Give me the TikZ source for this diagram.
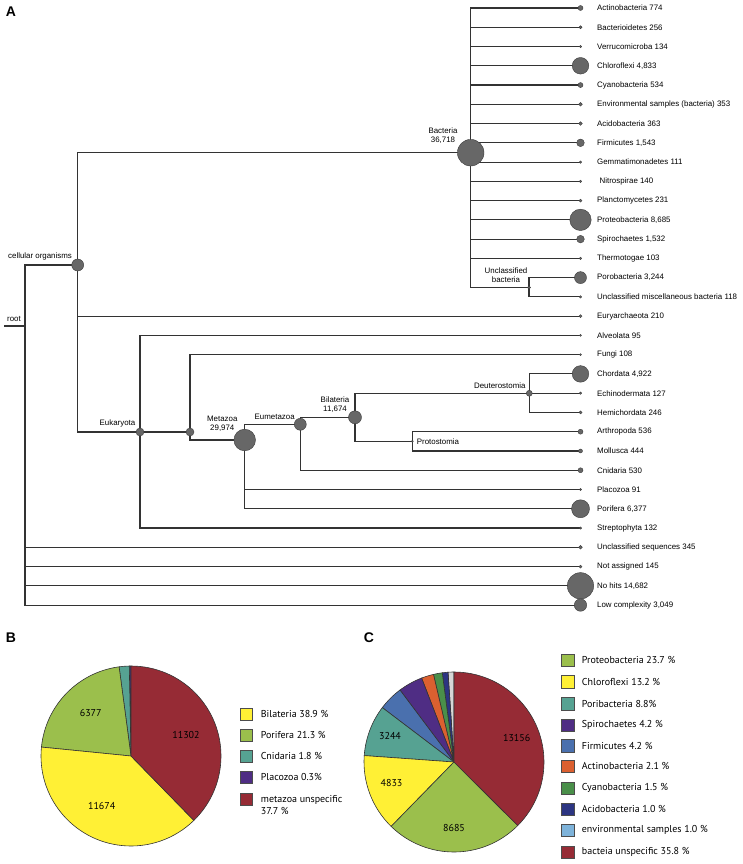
\documentclass[tikz,border=0pt]{standalone}
\usepackage{fontspec}
\setmainfont{Liberation Sans}
\newfontfamily\piefont{PT Sans}
\usetikzlibrary{backgrounds}

\definecolor{linegray}{HTML}{333333}
\definecolor{knotgray}{HTML}{676767}
\definecolor{rimgray}{HTML}{3C3C3C}
\definecolor{pieyellow}{HTML}{FFF035}
\definecolor{piegreen}{HTML}{9BBF4C}
\definecolor{pieteal}{HTML}{56A292}
\definecolor{piepurple}{HTML}{4F2D84}
\definecolor{piered}{HTML}{962B35}
\definecolor{pieblue}{HTML}{4A70AE}
\definecolor{pieorange}{HTML}{DB6030}
\definecolor{piecyano}{HTML}{4A8F4A}
\definecolor{pieacido}{HTML}{2C3582}
\definecolor{pieenv}{HTML}{7EB3DA}
\definecolor{piegray}{HTML}{D6D6D6}

\tikzset{
  branch/.style={draw=linegray, line width=1.1pt},
  knot/.style={circle, fill=knotgray, draw=rimgray, line width=0.4pt, inner sep=0pt, minimum size=#1},
  taxon/.style={anchor=west, inner sep=0pt, font=\fontsize{7.9}{9}\selectfont},
  clade/.style={inner sep=0pt, align=center, font=\fontsize{7.9}{9}\selectfont},
  panel/.style={inner sep=0pt, font=\fontsize{14}{14}\selectfont\bfseries},
  slice/.style={draw=black!80, line width=0.6pt},
  swatch/.style={draw=black!70, line width=0.6pt, minimum size=12.4pt, inner sep=0pt},
  legtext/.style={anchor=west, inner sep=0pt, align=left, font=\piefont\fontsize{10}{11.7}\selectfont},
  pienum/.style={inner sep=0pt, font=\piefont\fontsize{10}{11}\selectfont},
}

\begin{document}
\begin{tikzpicture}[x=1pt, y=-1pt]
\useasboundingbox (0,0) rectangle (743,864);

% Panel letters
\node[panel] (pa) at (11,12) {A};
\node[panel] (pb) at (11,638) {B};
\node[panel] (pc) at (369,638) {C};

% Leaves of the tree
\foreach \nm/\i/\sz/\txt in {
  actino/0/5pt/{Actinobacteria 774},
  bacteroid/1/3pt/{Bacterioidetes 256},
  verruco/2/2.4pt/{Verrucomicroba 134},
  chloro/3/16.6pt/{Chloroflexi 4,833},
  cyano/4/5pt/{Cyanobacteria 534},
  envsam/5/3.6pt/{Environmental samples (bacteria) 353},
  acido/6/3.6pt/{Acidobacteria 363},
  firmi/7/7.6pt/{Firmicutes 1,543},
  gemma/8/2.4pt/{Gemmatimonadetes 111},
  nitro/9/2.4pt/{\hspace{2.5pt}Nitrospirae 140},
  plancto/10/3pt/{Planctomycetes 231},
  proteo/11/21.4pt/{Proteobacteria 8,685},
  spiro/12/7.6pt/{Spirochaetes 1,532},
  thermo/13/2.4pt/{Thermotogae 103},
  poro/14/12pt/{Porobacteria 3,244},
  unclmisc/15/2.4pt/{Unclassified miscellaneous bacteria 118},
  eury/16/3pt/{Euryarchaeota 210},
  alveo/17/2pt/{Alveolata 95},
  fungi/18/2pt/{Fungi 108},
  chorda/19/16.6pt/{Chordata 4,922},
  echino/20/2.4pt/{Echinodermata 127},
  hemi/21/3pt/{Hemichordata 246},
  arthro/22/5pt/{Arthropoda 536},
  mollu/23/4pt/{Mollusca 444},
  cnida/24/5pt/{Cnidaria 530},
  placo/25/2pt/{Placozoa 91},
  pori/26/18pt/{Porifera 6,377},
  strepto/27/2.4pt/{Streptophyta 132},
  unclseq/28/3.6pt/{Unclassified sequences 345},
  notass/29/3pt/{Not assigned 145},
  nohits/30/26.4pt/{No hits 14,682},
  lowcx/31/12.4pt/{Low complexity 3,049}}{
  \node[knot=\sz] (\nm) at (580.5,{8+19.26*\i}) {};
  \node[taxon] (\nm-t) at (597,{8+19.26*\i}) {\txt};
}

% Inner nodes
\coordinate (rootend) at (4,326);
\coordinate (root) at (25,326);
\node[knot=12pt] (cell) at (77.7,265) {};
\node[knot=26.6pt] (bact) at (470.7,152.7) {};
\node[knot=3pt] (unclb) at (529,287.5) {};
\node[knot=8pt] (euk) at (140,432) {};
\node[knot=8pt] (opisth) at (190,432) {};
\node[knot=21.6pt] (meta) at (244.7,440) {};
\node[knot=12pt] (eumeta) at (300.3,424.3) {};
\node[knot=13pt] (bila) at (355,417.3) {};
\node[knot=6pt] (deut) at (529.3,393.3) {};
\node[knot=2pt] (prot) at (412.3,441.3) {};

% Clade labels
\node[clade] (root-t) at (14,319) {root};
\node[clade] (cell-t) at (40,256) {cellular organisms};
\node[clade] (bact-t) at (443,136) {Bacteria\\36,718};
\node[clade] (unclb-t) at (506,275) {Unclassified\\bacteria};
\node[clade] (euk-t) at (117.5,423.3) {Eukaryota};
\node[clade] (meta-t) at (222.3,423.7) {Metazoa\\29,974};
\node[clade] (eumeta-t) at (274.7,416.7) {Eumetazoa};
\node[clade] (bila-t) at (335,405) {Bilateria\\11,674};
\node[clade, anchor=east] (deut-t) at (525.7,386) {Deuterostomia};
\node[clade, anchor=west] (prot-t) at (416.7,441.3) {Protostomia};

% Branches, one path for each parent
\begin{scope}[on background layer]
\draw[branch] (rootend) -- (root)
  \foreach \c in {cell,unclseq,notass,nohits,lowcx} {(root) |- (\c.center)};
\draw[branch] \foreach \c in {bact,eury,euk} {(cell.center) |- (\c.center)};
\draw[branch] \foreach \c in {actino,bacteroid,verruco,chloro,cyano,envsam,acido,firmi,gemma,nitro,plancto,proteo,spiro,thermo,unclb}
  {(bact.center) |- (\c.center)};
\draw[branch] \foreach \c in {poro,unclmisc} {(unclb.center) |- (\c.center)};
\draw[branch] \foreach \c in {alveo,opisth,strepto} {(euk.center) |- (\c.center)};
\draw[branch] \foreach \c in {fungi,meta} {(opisth.center) |- (\c.center)};
\draw[branch] \foreach \c in {eumeta,placo,pori} {(meta.center) |- (\c.center)};
\draw[branch] \foreach \c in {bila,cnida} {(eumeta.center) |- (\c.center)};
\draw[branch] \foreach \c in {deut,prot} {(bila.center) |- (\c.center)};
\draw[branch] \foreach \c in {chorda,echino,hemi} {(deut.center) |- (\c.center)};
\draw[branch] \foreach \c in {arthro,mollu} {(prot.center) |- (\c.center)};
\end{scope}

% Pie B: metazoa
\begin{scope}[shift={(131,756)}, yscale=-1]
\foreach \a/\b/\c in {90/91.1/piepurple, 91.1/97.6/pieteal, 97.6/174.3/piegreen,
  174.3/314.3/pieyellow, 314.3/450/piered}
  \filldraw[slice, fill=\c] (0,0) -- (\a:90) arc[start angle=\a, end angle=\b, radius=90] -- cycle;
\end{scope}
\node[pienum] (b6377) at (90.7,712.7) {6377};
\node[pienum] (b11674) at (101.7,805.7) {11674};
\node[pienum] (b11302) at (186,735) {11302};

% Legend B
\node[swatch, fill=pieyellow] (lbila) at (246.5,714.3) {};
\node[swatch, fill=piegreen] (lpori) at (246.5,735) {};
\node[swatch, fill=pieteal] (lcnida) at (246.5,756) {};
\node[swatch, fill=piepurple] (lplaco) at (246.5,777.3) {};
\node[swatch, fill=piered] (lmeta) at (246.5,799.3) {};
\node[legtext] (lbila-t) at (260.7,714.3) {Bilateria 38.9 \%};
\node[legtext] (lpori-t) at (260.7,735) {Porifera 21.3 \%};
\node[legtext] (lcnida-t) at (260.7,756) {Cnidaria 1.8 \%};
\node[legtext] (lplaco-t) at (260.7,777.3) {Placozoa 0.3\%};
\node[legtext] (lmeta-t) at (260.7,805) {metazoa unspecific\\37.7 \%};

% Pie C: bacteria
\begin{scope}[shift={(454,762)}, yscale=-1]
\foreach \a/\b/\c in {90/93.8/piegray, 93.8/97.5/pieacido, 97.5/103.2/piecyano,
  103.2/111.1/pieorange, 111.1/126.9/piepurple, 126.9/142.8/pieblue,
  142.8/175.9/pieteal, 175.9/225.7/pieyellow, 225.7/315.1/piegreen, 315.1/450/piered}
  \filldraw[slice, fill=\c] (0,0) -- (\a:90) arc[start angle=\a, end angle=\b, radius=90] -- cycle;
\end{scope}
\node[pienum] (c13156) at (516.7,738.3) {13156};
\node[pienum] (c8685) at (454,827.7) {8685};
\node[pienum] (c4833) at (391.5,783) {4833};
\node[pienum] (c3244) at (390,736) {3244};

% Legend C
\foreach \nm/\yy/\c/\txt in {
  lproteo/660/piegreen/{Proteobacteria 23.7 \%},
  lchloro/681.7/pieyellow/{Chloroflexi 13.2 \%},
  lporib/703.7/pieteal/{Poribacteria 8.8\%},
  lspiro/725/piepurple/{Spirochaetes 4.2 \%},
  lfirmi/745.7/pieblue/{Firmicutes 4.2 \%},
  lactino/766.3/pieorange/{Actinobacteria 2.1 \%},
  lcyano/788.3/piecyano/{Cyanobacteria 1.5 \%},
  lacido/809/pieacido/{Acidobacteria 1.0 \%},
  lenv/830.3/pieenv/{environmental samples 1.0 \%},
  lbact/852.3/piered/{bacteia unspecific 35.8 \%}}{
  \node[swatch, fill=\c] (\nm) at (567.7,\yy) {};
  \node[legtext] (\nm-t) at (581.7,\yy) {\txt};
}

\end{tikzpicture}
\end{document}
